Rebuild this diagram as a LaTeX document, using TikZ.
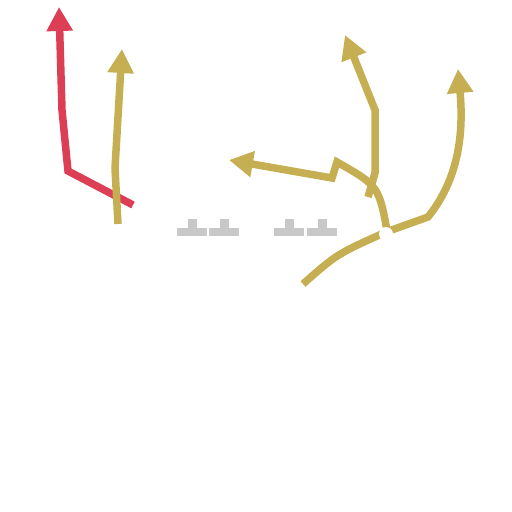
\documentclass[tikz,border=0pt]{standalone}
\usetikzlibrary{arrows.meta}
\definecolor{routered}{HTML}{DC3E55}
\definecolor{routegold}{HTML}{C6AF52}
\definecolor{linegray}{HTML}{C8C8C8}
\begin{document}
\begin{tikzpicture}[x=1pt,y=-1pt]
			\tikzstyle{route}=[line width=7.5pt,line join=miter,-{Triangle[length=24pt,width=25pt]}]
			\tikzstyle{redroute}=[route,draw=routered]
			\tikzstyle{goldroute}=[route,draw=routegold]
			\tikzstyle{lineman}=[fill=linegray]
			
			\useasboundingbox (0,0) rectangle (512,512);
			
			% linemen
			\foreach \x in {177,209,274,307} {
				\fill[lineman] (\x,228) rectangle ++(30,8);
				\fill[lineman] (\x+11,219) rectangle ++(9,9);
			}
			
			% routes
			\draw[redroute] (133,205) -- (68,171) -- (62,110) -- (59,7);
			\draw[goldroute] (118,224) -- (115,168) -- (122,49);
			\draw[goldroute] (388,236) .. controls (379,186) .. (337,162) -- (332,178) -- (229,160);
			\draw[goldroute] (368,197) -- (375,173) -- (375,110) -- (345,35);
			\draw[goldroute] (303,284) .. controls (337,254) .. (386,232) -- (428,217) .. controls (462,175) and (463,125) .. (458,69);
			
			% player mark
			\fill[white] (386,234) circle (7);
			
			\end{tikzpicture}
\end{document}
